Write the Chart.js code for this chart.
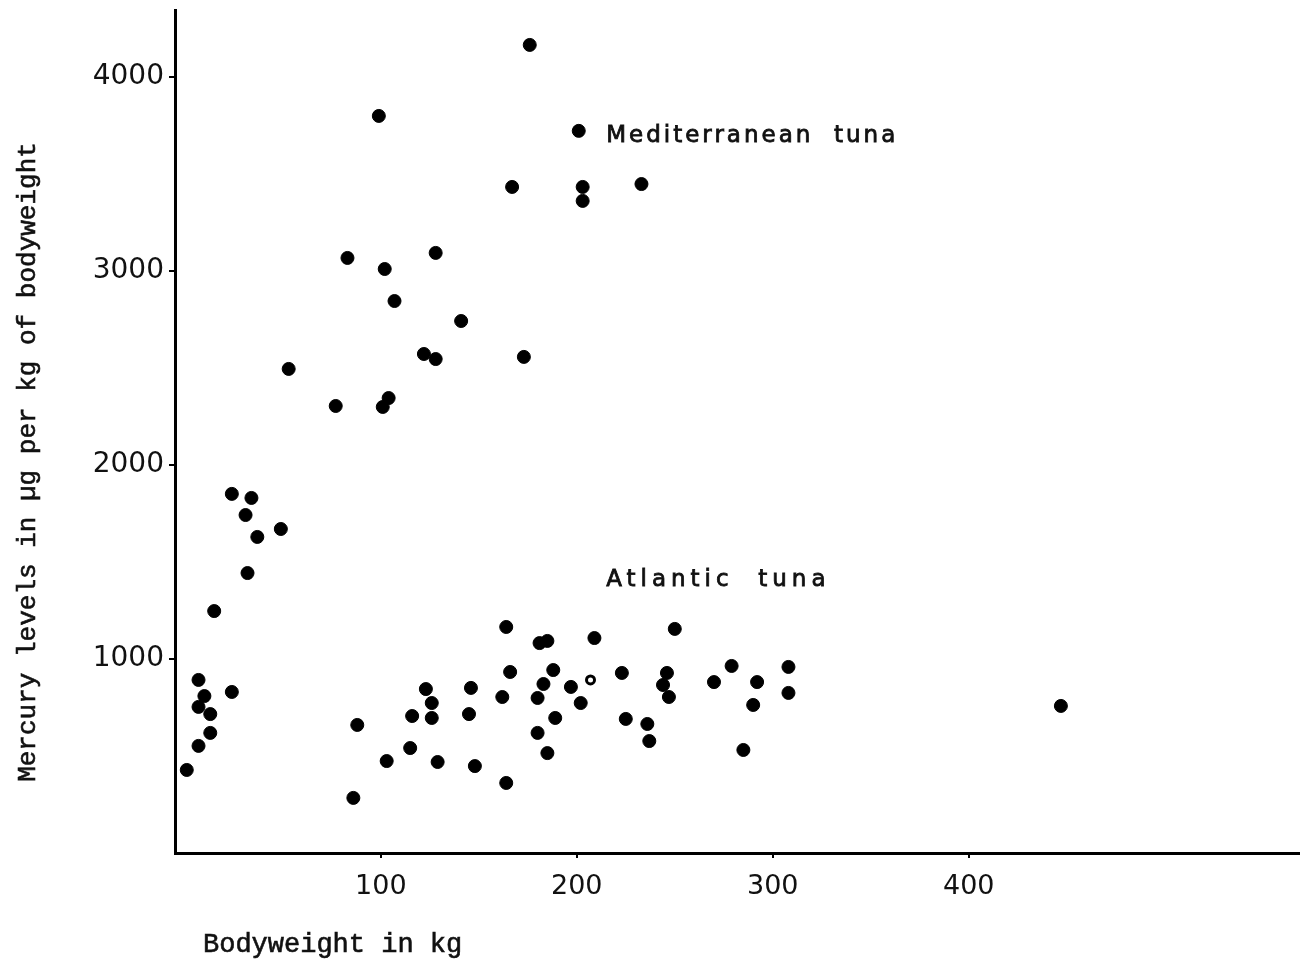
<!DOCTYPE html>
<html>
<head>
<meta charset="utf-8">
<script src="https://cdn.jsdelivr.net/npm/chart.js@4"></script>
<style>
  body { margin: 0; background: #fff; }
  canvas { display: block; }
</style>
</head>
<body>
<canvas id="canvas" width="1300" height="966"></canvas>
<script>
// bodyweight (kg) and mercury (ug/kg)
const medWeight = [176, 99, 201, 167, 203, 203, 233, 83, 128, 102, 107, 141, 122, 128, 173, 53, 77, 104, 101,
  24, 34, 31, 37, 49, 32, 15]
const medMercury = [4165, 3799, 3722, 3433, 3433, 3361, 3448, 3067, 3093, 3010, 2845, 2742, 2572, 2546, 2557, 2495, 2304, 2345, 2299,
  1851, 1830, 1742, 1629, 1670, 1443, 1247]

const atlWeight = [7, 10, 7, 13, 13, 7, 1, 24, 88, 86, 103, 115, 116, 123, 126, 126, 129, 146, 145, 148,
  162, 164, 166, 164, 181, 185, 188, 183, 180, 189, 180, 185, 197, 202, 209, 250, 223, 225, 236, 237,
  246, 244, 247, 270, 279, 292, 290, 308, 308, 285, 447]
const atlMercury = [892, 809, 753, 716, 619, 552, 428, 830, 660, 284, 474, 541, 706, 845, 773, 696, 469, 851, 716, 448,
  804, 1165, 933, 361, 1082, 1093, 943, 871, 799, 696, 619, 515, 856, 773, 1108, 1155, 928, 691, 665, 577,
  928, 866, 804, 881, 964, 881, 763, 959, 825, 531, 758]

// one point printed as an open ring
const ringWeight = [207]
const ringMercury = [892]

const xTicks = [100, 200, 300, 400]
const yTicks = [1000, 2000, 3000, 4000]

const toPoints = (xs, ys) => xs.map((x, i) => ({ x: x, y: ys[i] }))

const ink = '#111'

// draw text a bit heavier, like the typewritten original
function inkText(ctx, text, x, y, weight) {
  ctx.fillText(text, x, y)
  ctx.lineWidth = weight
  ctx.strokeText(text, x, y)
}

const textPlugin = {
  id: 'figureText',
  afterDraw(chart) {
    const ctx = chart.ctx
    const xs = chart.scales.x
    const ys = chart.scales.y
    ctx.save()
    ctx.fillStyle = ink
    ctx.strokeStyle = ink
    ctx.textBaseline = 'middle'
    ctx.textAlign = 'left'

    // species labels, placed in data space
    ctx.font = '23px "DejaVu Sans"'
    ctx.letterSpacing = '3px'
    inkText(ctx, 'Mediterranean  tuna', xs.getPixelForValue(215), ys.getPixelForValue(3696), 0.8)
    ctx.letterSpacing = '5px'
    inkText(ctx, 'Atlantic  tuna', xs.getPixelForValue(215), ys.getPixelForValue(1407), 0.8)

    // axis titles
    ctx.letterSpacing = '0px'
    ctx.font = '27px "Liberation Mono"'
    inkText(ctx, 'Bodyweight in kg', 203, 945, 0.6)

    ctx.translate(28, 462)
    ctx.rotate(-Math.PI / 2)
    ctx.textAlign = 'center'
    ctx.font = '26px "Liberation Mono"'
    inkText(ctx, 'Mercury levels in \u00b5g per kg of bodyweight', 0, 0, 0.6)
    ctx.restore()
  }
}

const data = {
  datasets: [
    {
      label: 'Mediterranean tuna',
      data: toPoints(medWeight, medMercury),
      backgroundColor: '#000',
      borderColor: '#000',
      pointRadius: 6.5,
    },
    {
      label: 'Atlantic tuna',
      data: toPoints(atlWeight, atlMercury),
      backgroundColor: '#000',
      borderColor: '#000',
      pointRadius: 6.5,
    },
    {
      label: 'Atlantic tuna (open)',
      data: toPoints(ringWeight, ringMercury),
      backgroundColor: '#fff',
      borderColor: '#000',
      borderWidth: 3,
      pointRadius: 4,
    },
  ],
}

const config = {
  type: 'scatter',
  data: data,
  options: {
    responsive: false,
    animation: false,
    devicePixelRatio: 1,
    layout: { autoPadding: false, padding: { top: 10, right: 0, left: 0, bottom: 0 } },
    plugins: {
      legend: { display: false },
      tooltip: { enabled: false },
    },
    scales: {
      x: {
        type: 'linear',
        min: -5,
        max: 569,
        afterBuildTicks: (axis) => { axis.ticks = xTicks.map(v => ({ value: v })) },
        afterFit: (axis) => {
          axis.height = 113
          axis.paddingLeft = 0
          axis.paddingRight = 0
        },
        ticks: {
          color: ink,
          padding: 13,
          font: { family: 'DejaVu Sans', size: 27 },
          callback: (v) => String(v),
        },
        grid: { drawOnChartArea: false, color: '#000', lineWidth: 2, tickLength: 5 },
        border: { color: '#000', width: 3 },
      },
      y: {
        min: 0,
        max: 4345,
        afterBuildTicks: (axis) => { axis.ticks = yTicks.map(v => ({ value: v })) },
        afterFit: (axis) => {
          axis.width = 175
          axis.paddingTop = 0
          axis.paddingBottom = 0
        },
        ticks: {
          color: ink,
          padding: 5,
          font: { family: 'DejaVu Sans', size: 28 },
          callback: (v) => String(v),
        },
        grid: { drawOnChartArea: false, color: '#000', lineWidth: 2, tickLength: 6 },
        border: { color: '#000', width: 3 },
      },
    },
  },
  plugins: [textPlugin],
}

const canvas = document.getElementById('canvas')
const chart = new Chart(canvas, config)
</script>
</body>
</html>
